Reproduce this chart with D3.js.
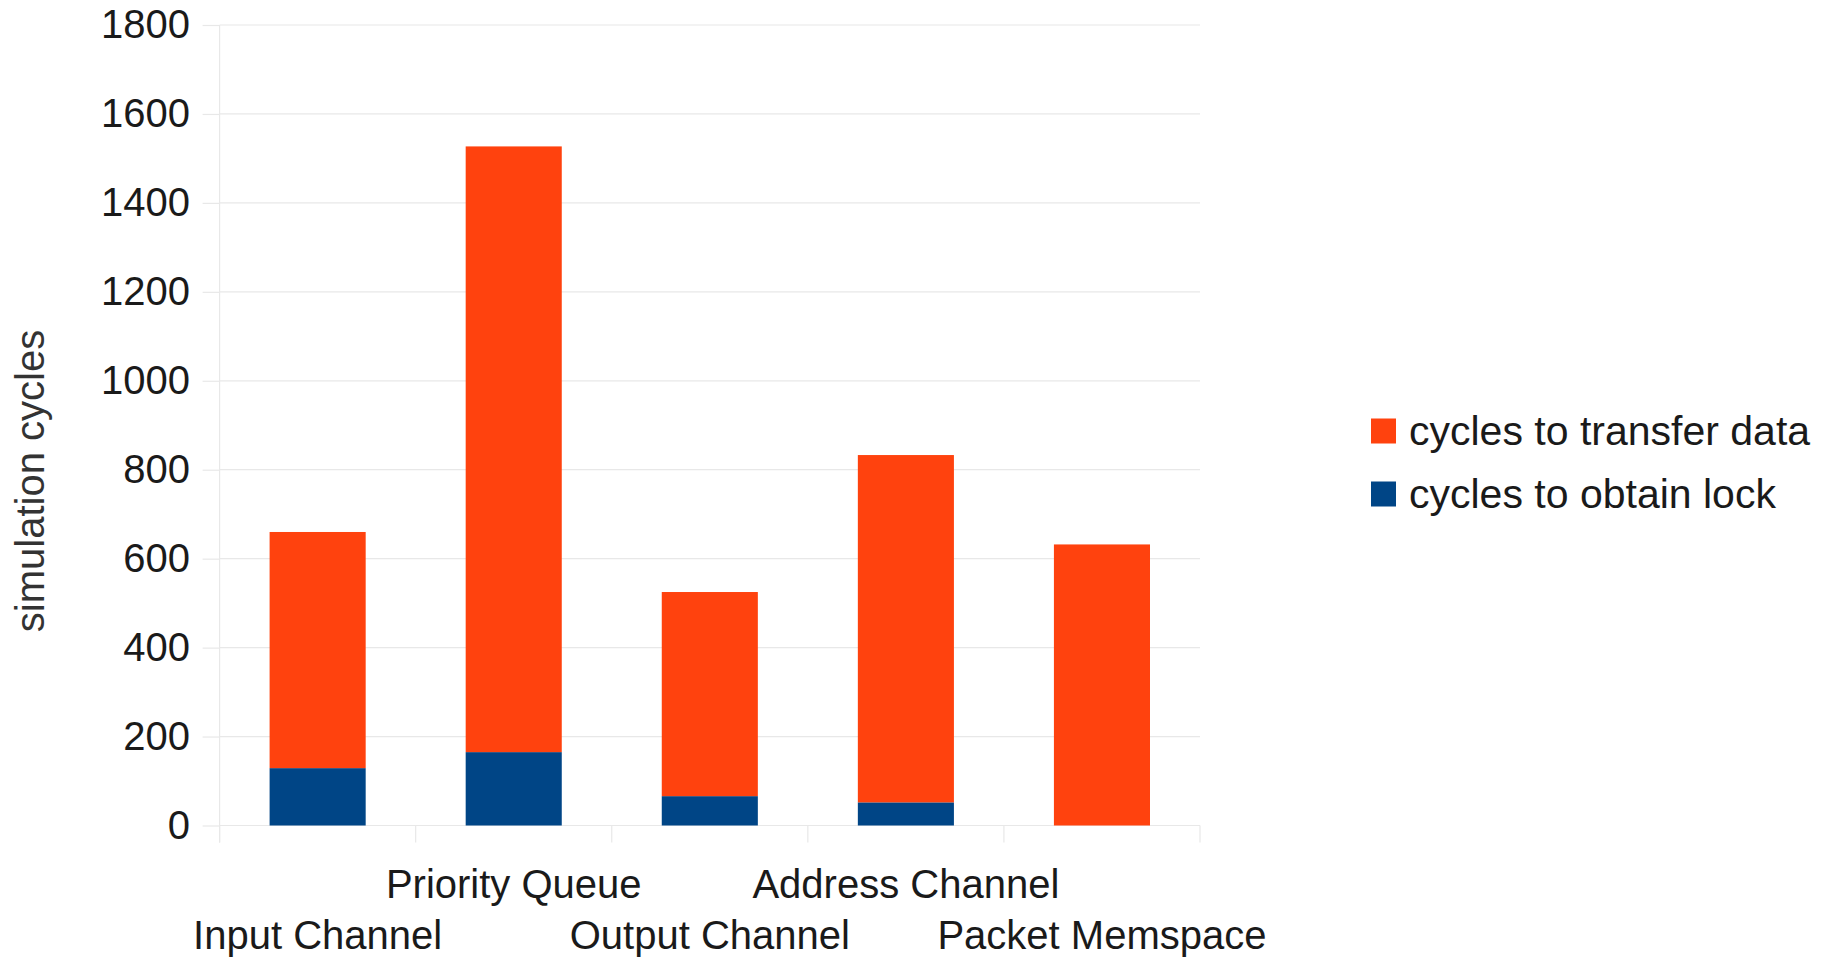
<!DOCTYPE html>
<html>
<head>
<meta charset="utf-8">
<script src="https://cdn.jsdelivr.net/npm/d3@7"></script>
<style>
	html, body { margin: 0; padding: 0; background: #fff; }
	svg { display: block; font-family: "Liberation Sans", Arial, sans-serif; }
</style>
</head>
<body>
<svg id="chart"></svg>
<script>
const categories = ['Input Channel', 'Priority Queue', 'Output Channel', 'Address Channel', 'Packet Memspace'];
const lockCycles = [129, 165, 66, 52, 0];
const transferCycles = [531, 1362, 459, 781, 632];
const yTicks = [0, 200, 400, 600, 800, 1000, 1200, 1400, 1600, 1800];
const seriesNames = ['cycles to transfer data', 'cycles to obtain lock'];

const width = 1841;
const height = 957;

const plotLeft = 219.6, plotRight = 1200, plotTop = 25, plotBottom = 825.5;

const svg = d3.select('#chart')
	.attr('width', width)
	.attr('height', height);

const xScale = d3.scaleBand()
	.domain(categories)
	.range([plotLeft, plotRight])
	.paddingInner(0.51)
	.paddingOuter(0.255);

const yScale = d3.scaleLinear()
	.domain([0, 1800])
	.range([plotBottom, plotTop]);

const gridColor = '#e8e8e8';

// gridlines
svg.append('g')
	.selectAll('line')
	.data(yTicks)
	.join('line')
	.attr('x1', plotLeft)
	.attr('x2', plotRight)
	.attr('y1', d => yScale(d))
	.attr('y2', d => yScale(d))
	.attr('stroke', gridColor)
	.attr('stroke-width', 1.2);

// y axis
const yAxis = d3.axisLeft(yScale)
	.tickValues(yTicks)
	.tickSize(17)
	.tickPadding(12.6)
	.tickFormat(d3.format('d'));

const yg = svg.append('g')
	.attr('transform', `translate(${plotLeft},0)`)
	.call(yAxis);
yg.select('.domain').remove();
yg.selectAll('.tick line').attr('stroke', gridColor).attr('stroke-width', 1.2);
yg.selectAll('.tick text')
	.attr('fill', '#1a1a1a')
	.style('font-family', '"Liberation Sans", Arial, sans-serif')
	.style('font-size', '40px');

// axis line and category ticks
const step = xScale.step();
const bounds = categories.map(c => xScale(c) + xScale.bandwidth() / 2 - step / 2);
bounds.push(bounds[bounds.length - 1] + step);

svg.append('line')
	.attr('x1', plotLeft).attr('x2', plotLeft)
	.attr('y1', plotTop).attr('y2', plotBottom + 17)
	.attr('stroke', gridColor).attr('stroke-width', 1.2);

svg.append('g')
	.selectAll('line')
	.data(bounds)
	.join('line')
	.attr('x1', d => d).attr('x2', d => d)
	.attr('y1', plotBottom).attr('y2', plotBottom + 17)
	.attr('stroke', gridColor).attr('stroke-width', 1.2);

// stacked bars
const rows = categories.map((c, i) => ({ cat: c, lock: lockCycles[i], transfer: transferCycles[i] }));
const stack = d3.stack().keys(['lock', 'transfer'])(rows);
const colors = { lock: '#004586', transfer: '#ff420e' };

svg.append('g')
	.selectAll('g')
	.data(stack)
	.join('g')
	.attr('fill', d => colors[d.key])
	.selectAll('rect')
	.data(d => d)
	.join('rect')
	.attr('x', d => xScale(d.data.cat))
	.attr('width', xScale.bandwidth())
	.attr('y', d => yScale(d[1]))
	.attr('height', d => yScale(d[0]) - yScale(d[1]));

// staggered category labels
svg.append('g')
	.selectAll('text')
	.data(categories)
	.join('text')
	.attr('x', d => xScale(d) + xScale.bandwidth() / 2)
	.attr('y', (d, i) => i % 2 === 0 ? 949 : 898)
	.attr('text-anchor', 'middle')
	.attr('fill', '#1a1a1a')
	.style('font-size', '40px')
	.text(d => d);

// y axis title
svg.append('text')
	.attr('transform', 'translate(44,481) rotate(-90)')
	.attr('text-anchor', 'middle')
	.attr('fill', '#333')
	.style('font-size', '40px')
	.text('simulation cycles');

// legend
const legendColors = [colors.transfer, colors.lock];
const legend = svg.append('g')
	.selectAll('g')
	.data(seriesNames)
	.join('g')
	.attr('transform', (d, i) => `translate(1371,${431 + i * 63})`);

legend.append('rect')
	.attr('x', 0)
	.attr('y', -12.5)
	.attr('width', 25)
	.attr('height', 25)
	.attr('fill', (d, i) => legendColors[i]);

legend.append('text')
	.attr('x', 38)
	.attr('y', 0)
	.attr('dy', '0.35em')
	.attr('fill', '#1a1a1a')
	.style('font-size', '41px')
	.text(d => d);
</script>
</body>
</html>
